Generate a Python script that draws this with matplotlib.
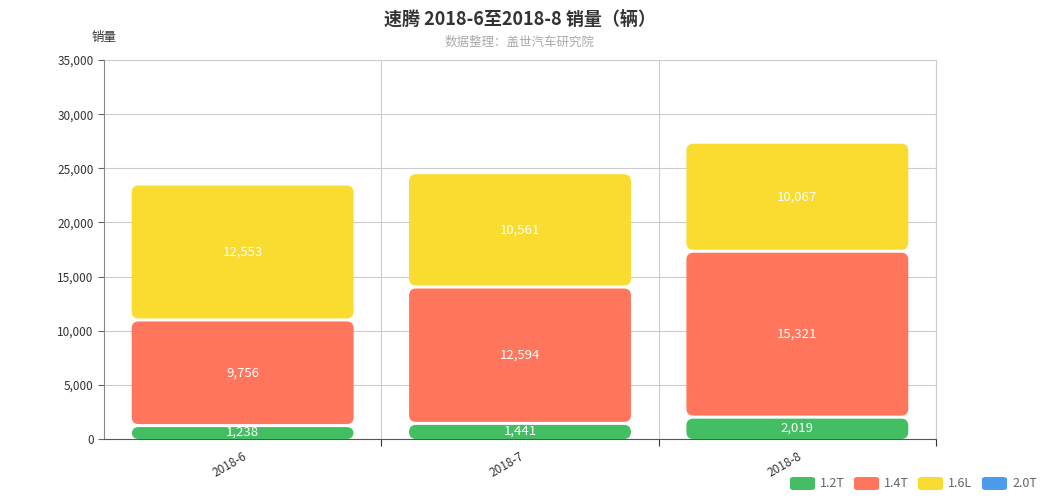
import numpy as np
import matplotlib.pyplot as plt
from matplotlib.patches import FancyBboxPatch

plt.rcParams['font.family'] = ['Noto Sans CJK SC', 'DejaVu Sans']

months = ['2018-6', '2018-7', '2018-8']
series = ['1.2T', '1.4T', '1.6L', '2.0T']
v12 = [1238, 1441, 2019]
v14 = [9756, 12594, 15321]
v16 = [12553, 10561, 10067]
v20 = [0, 0, 0]
colors = ['#43be63', '#ff765c', '#f9dc2f', '#4c9cee']

fig = plt.figure(figsize=(10.4, 5), dpi=100)
ax = fig.add_axes([0.1, 0.122, 0.8, 0.758])

ymax = 35000
ax.set_xlim(0, 3)
ax.set_ylim(0, ymax)

# pixel -> data scale for rounded corners
px_x = 3 / 832
px_y = ymax / 379
gap = 1.5 * px_y
bw = 0.8

bottom = np.zeros(3)
for vals, c in zip([v12, v14, v16, v20], colors):
    for i, v in enumerate(vals):
        if v <= 0:
            continue
        x0 = i + 0.5 - bw / 2
        y0 = bottom[i] + (gap if bottom[i] > 0 else 0)
        h = v - (gap if bottom[i] > 0 else 0) - gap
        p = FancyBboxPatch((x0, y0), bw, h,
                           boxstyle='round,pad=0,rounding_size=%f' % (7 * px_x),
                           mutation_aspect=px_y / px_x,
                           fc=c, ec='none', zorder=3)
        ax.add_patch(p)
        ax.text(i + 0.5, bottom[i] + v / 2, f'{v:,}', color='white',
                ha='center', va='center', fontsize=9.5, fontweight='medium',
                zorder=4)
    bottom += np.array(vals)

ax.set_yticks(np.arange(0, ymax + 1, 5000))
ax.set_yticklabels([f'{t:,}' for t in range(0, ymax + 1, 5000)])
ax.set_xticks([1, 2, 3])
ax.set_xticklabels([])
ax.set_xticks([0.5, 1.5, 2.5], minor=True)
ax.set_xticklabels(months, minor=True, rotation=30, ha='right',
                   rotation_mode='anchor')
ax.tick_params(axis='x', which='minor', length=0, pad=8, labelsize=8.5,
               labelcolor='#333333')
ax.tick_params(axis='x', which='major', length=5, color='#333333')
ax.tick_params(axis='y', length=4, color='#666666', labelsize=8.5,
               labelcolor='#333333')

ax.grid(True, color='#cccccc', linewidth=0.8, zorder=0)
ax.axvline(3, color='#cccccc', linewidth=0.8, zorder=0, clip_on=False)
for s in ['top', 'right']:
    ax.spines[s].set_visible(False)
ax.spines['left'].set_color('#888888')
ax.spines['bottom'].set_color('#555555')
ax.set_axisbelow(True)

fig.text(0.5, 0.962, '速腾 2018-6至2018-8 销量（辆）', ha='center', va='center',
         fontsize=13, fontweight='bold', color='#333333')
fig.text(0.5, 0.916, '数据整理：盖世汽车研究院', ha='center', va='center',
         fontsize=9, color='#aaaaaa')
fig.text(0.1, 0.924, '销量', ha='center', va='center', fontsize=9,
         color='#333333')

# legend
lx = 790
for name, c in zip(series, colors):
    r = FancyBboxPatch((lx / 1040, 10 / 500), 25 / 1040, 13 / 500,
                       boxstyle='round,pad=0,rounding_size=0.004',
                       transform=fig.transFigure, fc=c, ec='none')
    fig.patches.append(r)
    fig.text((lx + 30) / 1040, 16.5 / 500, name, ha='left', va='center',
             fontsize=9, color='#666666')
    lx += 64

fig.savefig('out.png')
